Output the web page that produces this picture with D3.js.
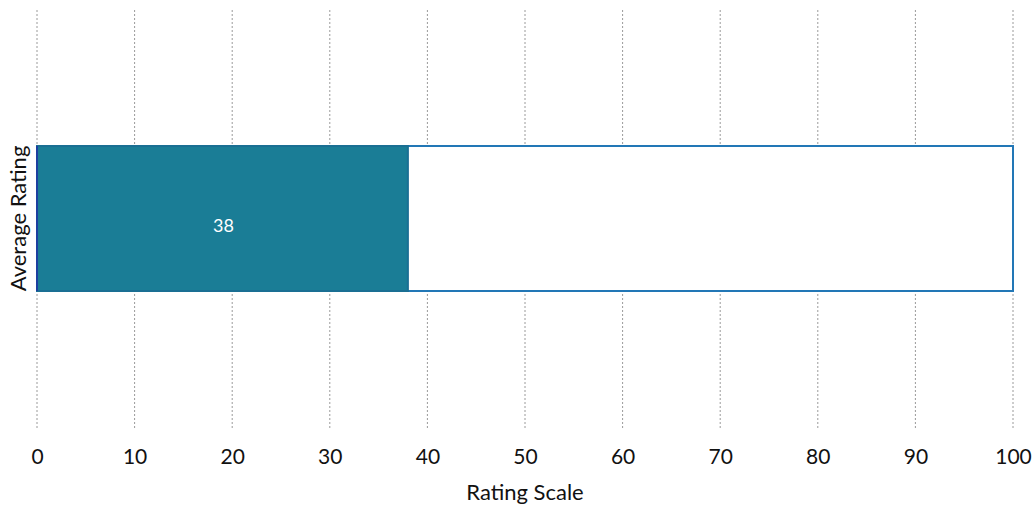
<!DOCTYPE html>
<html><head><meta charset="utf-8">
<script src="https://cdn.jsdelivr.net/npm/d3@7"></script>
<style>body{margin:0;background:#fff}text{font-family:Lato,"Open Sans",sans-serif}</style>
</head><body><svg id="c" width="1034" height="508"></svg>
<script>
const categories = ["Average Rating"];
const values = [38];
const scaleMax = [100];
const tickValues = [0,10,20,30,40,50,60,70,80,90,100];
const xTitle = "Rating Scale";

const svg = d3.select("#c");
const x = d3.scaleLinear().domain([0,100]).range([37,1013]);
const y = d3.scaleBand().domain(categories).range([146,291]).padding(0);

// grid
svg.append("g").selectAll("line").data(tickValues).join("line")
  .attr("x1",d=>x(d)).attr("x2",d=>x(d)).attr("y1",10).attr("y2",430)
  .attr("stroke","#9a9a9a").attr("stroke-width",1).attr("stroke-dasharray","2,2");

// full-scale outline
svg.append("g").selectAll("rect").data(categories).join("rect")
  .attr("x",x(0)).attr("y",d=>y(d)).attr("width",(d,i)=>x(scaleMax[i])-x(0)).attr("height",y.bandwidth())
  .attr("fill","#fff").attr("stroke","#2277b6").attr("stroke-width",2);

// value bar
svg.append("g").selectAll("rect").data(categories).join("rect")
  .attr("x",x(0)).attr("y",d=>y(d)).attr("width",(d,i)=>x(values[i])-x(0)).attr("height",y.bandwidth())
  .attr("fill","#1a7d96").attr("stroke","#1a6f93").attr("stroke-width",2);

svg.append("line").attr("x1",x(0)).attr("x2",x(0)).attr("y1",y(categories[0])).attr("y2",y(categories[0])+y.bandwidth())
  .attr("stroke","#1d3fa0").attr("stroke-width",2);

// value label
svg.append("g").selectAll("text").data(categories).join("text")
  .attr("x",(d,i)=>x(values[i]/2)+1).attr("y",d=>y(d)+y.bandwidth()/2+7)
  .attr("dy","0.35em").attr("text-anchor","middle").attr("fill","#fff").attr("font-size",18)
  .text((d,i)=>values[i]);

// x axis
const ax = svg.append("g").attr("transform","translate(0,430)")
  .call(d3.axisBottom(x).tickValues(tickValues).tickSize(0).tickPadding(19));
ax.select(".domain").remove();
ax.selectAll("text").attr("font-size",21).attr("fill","#111").style("font-family","Lato, 'Open Sans', sans-serif");

svg.append("text").attr("x",525).attr("y",500).attr("text-anchor","middle")
  .attr("font-size",22).attr("fill","#111").text(xTitle);

// y category label
svg.append("text").attr("transform",`translate(26,${y(categories[0])+y.bandwidth()/2}) rotate(-90)`)
  .attr("text-anchor","middle").attr("font-size",22).attr("fill","#111").text(categories[0]);
</script></body></html>
